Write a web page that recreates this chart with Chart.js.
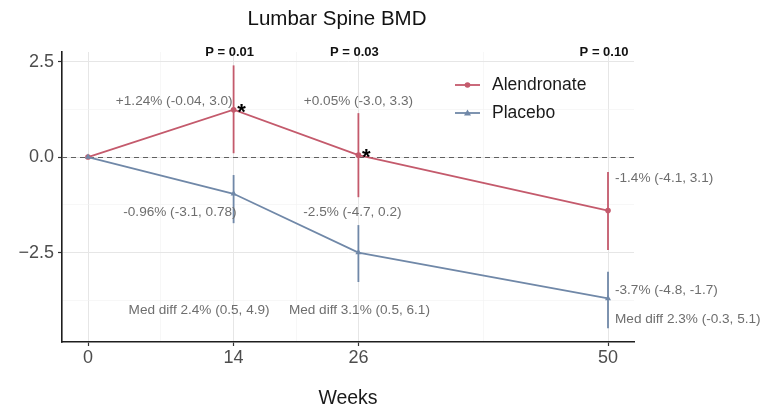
<!DOCTYPE html>
<html>
<head>
<meta charset="utf-8">
<script src="https://cdn.jsdelivr.net/npm/chart.js@4/dist/chart.umd.min.js"></script>
<style>
  html, body { margin: 0; padding: 0; background: #ffffff; }
  #wrap { width: 767px; height: 409px; }
</style>
</head>
<body>
<div id="wrap"><canvas id="bmd" width="767" height="409"></canvas></div>
<script>
// Percent change in lumbar spine BMD by week
const weeks = [0, 14, 26, 50];
const alendronate = [0, 1.24, 0.05, -1.4];
const alendronateLow = [null, 0.1, -1.05, -2.43];
const alendronateHigh = [null, 2.4, 1.15, -0.39];
const placebo = [0, -0.96, -2.5, -3.7];
const placeboLow = [null, -1.73, -3.27, -4.48];
const placeboHigh = [null, -0.47, -1.78, -3.0];

const alendronateLabels = ['', '+1.24% (-0.04, 3.0)', '+0.05% (-3.0, 3.3)', '-1.4% (-4.1, 3.1)'];
const placeboLabels = ['', '-0.96% (-3.1, 0.78)', '-2.5% (-4.7, 0.2)', '-3.7% (-4.8, -1.7)'];
const medDiffLabels = ['', 'Med diff 2.4% (0.5, 4.9)', 'Med diff 3.1% (0.5, 6.1)', 'Med diff 2.3% (-0.3, 5.1)'];
const pValueLabels = ['', 'P = 0.01', 'P = 0.03', 'P = 0.10'];
const significant = [false, true, true, false];

const xMajorTicks = [0, 14, 26, 50];
const xMinorTicks = [7, 20, 38];
const yMajorTicks = [-2.5, 0, 2.5];
const yMinorTicks = [-3.75, -1.25, 1.25];

const RED = '#c45a6c';
const BLUE = '#7088a8';
const FONT = '"Liberation Sans", Arial, Helvetica, sans-serif';
const TEXT_GREY = '#6e6e6e';

function toPoints(values) {
  return weeks.map((w, i) => ({ x: w, y: values[i] }));
}

function isMajor(list, v) {
  return list.some(m => Math.abs(m - v) < 1e-9);
}

const overlay = {
  id: 'overlay',
  beforeDatasetsDraw(chart) {
    const { ctx, chartArea: a, scales: { x, y } } = chart;
    ctx.save();
    // reference line at zero change
    ctx.strokeStyle = '#606060';
    ctx.lineWidth = 1.1;
    ctx.setLineDash([5, 4]);
    const y0 = Math.round(y.getPixelForValue(0)) + 0.5;
    ctx.beginPath();
    ctx.moveTo(a.left, y0);
    ctx.lineTo(a.right, y0);
    ctx.stroke();
    ctx.setLineDash([]);

    // interval bars
    const bars = [
      [alendronateLow, alendronateHigh, RED],
      [placeboLow, placeboHigh, BLUE]
    ];
    ctx.lineWidth = 1.8;
    bars.forEach(([lo, hi, col]) => {
      ctx.strokeStyle = col;
      weeks.forEach((w, i) => {
        if (lo[i] === null || hi[i] === null) return;
        const px = x.getPixelForValue(w);
        ctx.beginPath();
        ctx.moveTo(px, y.getPixelForValue(lo[i]));
        ctx.lineTo(px, y.getPixelForValue(hi[i]));
        ctx.stroke();
      });
    });
    ctx.restore();
  },
  afterDraw(chart) {
    const { ctx, chartArea: a, scales: { x, y } } = chart;
    ctx.save();

    // title
    ctx.fillStyle = '#111111';
    ctx.font = '20.5px ' + FONT;
    ctx.textAlign = 'center';
    ctx.textBaseline = 'middle';
    ctx.fillText('Lumbar Spine BMD', a.left + (a.right - a.left) / 2 - 11, 19);

    // p values over each visit
    ctx.font = 'bold 13px ' + FONT;
    ctx.fillStyle = '#111111';
    weeks.forEach((w, i) => {
      if (!pValueLabels[i]) return;
      ctx.fillText(pValueLabels[i], x.getPixelForValue(w) - 4, a.top);
    });

    // value annotations
    ctx.font = '13.6px ' + FONT;
    ctx.fillStyle = TEXT_GREY;
    const put = (text, wx, wy, align, dx) => {
      if (!text) return;
      ctx.textAlign = align;
      ctx.fillText(text, x.getPixelForValue(wx) + dx, y.getPixelForValue(wy));
    };
    // alendronate
    put(alendronateLabels[1], weeks[1], 1.45, 'right', -1);
    put(alendronateLabels[2], weeks[2], 1.45, 'center', 0);
    put(alendronateLabels[3], weeks[3], -0.55, 'left', 7);
    // placebo
    put(placeboLabels[1], weeks[1], -1.44, 'right', 3);
    put(placeboLabels[2], weeks[2], -1.44, 'center', -6);
    put(placeboLabels[3], weeks[3], -3.48, 'left', 7);
    // median differences
    put(medDiffLabels[1], weeks[1], -4.0, 'right', 36);
    put(medDiffLabels[2], weeks[2], -4.0, 'center', 1);
    put(medDiffLabels[3], weeks[3], -4.24, 'left', 7);

    // significance stars beside alendronate points
    ctx.fillStyle = '#000000';
    ctx.font = 'bold 22px ' + FONT;
    ctx.textAlign = 'center';
    weeks.forEach((w, i) => {
      if (!significant[i]) return;
      ctx.fillText('*', x.getPixelForValue(w) + 8, y.getPixelForValue(alendronate[i]) + 3);
    });

    // legend
    const items = chart.data.datasets.slice().reverse();
    const lx = 455, ly = 85, gap = 28;
    items.forEach((ds, k) => {
      const cy = ly + k * gap;
      ctx.strokeStyle = ds.borderColor;
      ctx.lineWidth = 1.8;
      ctx.beginPath();
      ctx.moveTo(lx, cy);
      ctx.lineTo(lx + 25, cy);
      ctx.stroke();
      ctx.fillStyle = ds.borderColor;
      ctx.beginPath();
      if (ds.pointStyle === 'triangle') {
        const r = 3.5;
        ctx.moveTo(lx + 12.5, cy - r);
        ctx.lineTo(lx + 12.5 + r, cy + r * 0.7);
        ctx.lineTo(lx + 12.5 - r, cy + r * 0.7);
        ctx.closePath();
      } else {
        ctx.arc(lx + 12.5, cy, 2.8, 0, Math.PI * 2);
      }
      ctx.fill();
      ctx.fillStyle = '#1a1a1a';
      ctx.font = '17.5px ' + FONT;
      ctx.textAlign = 'left';
      ctx.fillText(ds.label, lx + 37, cy);
    });

    ctx.restore();
  }
};

new Chart(document.getElementById('bmd'), {
  type: 'line',
  data: {
    datasets: [
      {
        label: 'Placebo',
        data: toPoints(placebo),
        borderColor: BLUE,
        backgroundColor: BLUE,
        borderWidth: 1.8,
        pointStyle: 'triangle',
        pointRadius: 3.5,
        pointBorderWidth: 0,
        tension: 0
      },
      {
        label: 'Alendronate',
        data: toPoints(alendronate),
        borderColor: RED,
        backgroundColor: RED,
        borderWidth: 1.8,
        pointStyle: 'circle',
        pointRadius: 2.8,
        pointBorderWidth: 0,
        tension: 0
      }
    ]
  },
  options: {
    responsive: false,
    animation: false,
    devicePixelRatio: 1,
    layout: { padding: { top: 52, right: 133, left: 0, bottom: 0 } },
    plugins: {
      legend: { display: false },
      tooltip: { enabled: false },
      title: { display: false }
    },
    scales: {
      x: {
        type: 'linear',
        min: -2.5,
        max: 52.5,
        afterBuildTicks: s => {
          s.ticks = xMajorTicks.concat(xMinorTicks).sort((p, q) => p - q).map(v => ({ value: v }));
        },
        afterFit: s => { s.height = 67; },
        ticks: {
          autoSkip: false,
          maxRotation: 0,
          padding: 1,
          color: '#4d4d4d',
          font: { family: FONT, size: 18 },
          callback: v => isMajor(xMajorTicks, v) ? String(v) : ''
        },
        grid: {
          tickLength: 4,
          color: c => isMajor(xMajorTicks, c.tick.value) ? '#e6e6e6' : '#f1f1f1',
          lineWidth: c => isMajor(xMajorTicks, c.tick.value) ? 1 : 0.6,
          tickColor: c => isMajor(xMajorTicks, c.tick.value) ? '#333333' : 'rgba(0,0,0,0)',
          tickWidth: 1.2
        },
        border: { display: true, color: '#1e1e1e', width: 1.6 },
        title: {
          display: true,
          text: 'Weeks',
          color: '#1a1a1a',
          font: { family: FONT, size: 19.5, lineHeight: 1.0 },
          padding: { top: 0, bottom: 1 }
        }
      },
      y: {
        type: 'linear',
        min: -4.84,
        max: 2.75,
        afterBuildTicks: s => {
          s.ticks = yMajorTicks.concat(yMinorTicks).sort((p, q) => p - q).map(v => ({ value: v }));
        },
        afterFit: s => { s.width = 62; },
        ticks: {
          autoSkip: false,
          padding: 4,
          color: '#4d4d4d',
          font: { family: FONT, size: 18 },
          callback: v => {
            if (!isMajor(yMajorTicks, v)) return '';
            const t = Math.abs(v).toFixed(1);
            return v < 0 ? '\u2212' + t : t;
          }
        },
        grid: {
          tickLength: 4,
          color: c => isMajor(yMajorTicks, c.tick.value) ? '#e6e6e6' : '#f1f1f1',
          lineWidth: c => isMajor(yMajorTicks, c.tick.value) ? 1 : 0.6,
          tickColor: c => isMajor(yMajorTicks, c.tick.value) ? '#333333' : 'rgba(0,0,0,0)',
          tickWidth: 1.2
        },
        border: { display: true, color: '#1e1e1e', width: 1.6 }
      }
    }
  },
  plugins: [overlay]
});
</script>
</body>
</html>
